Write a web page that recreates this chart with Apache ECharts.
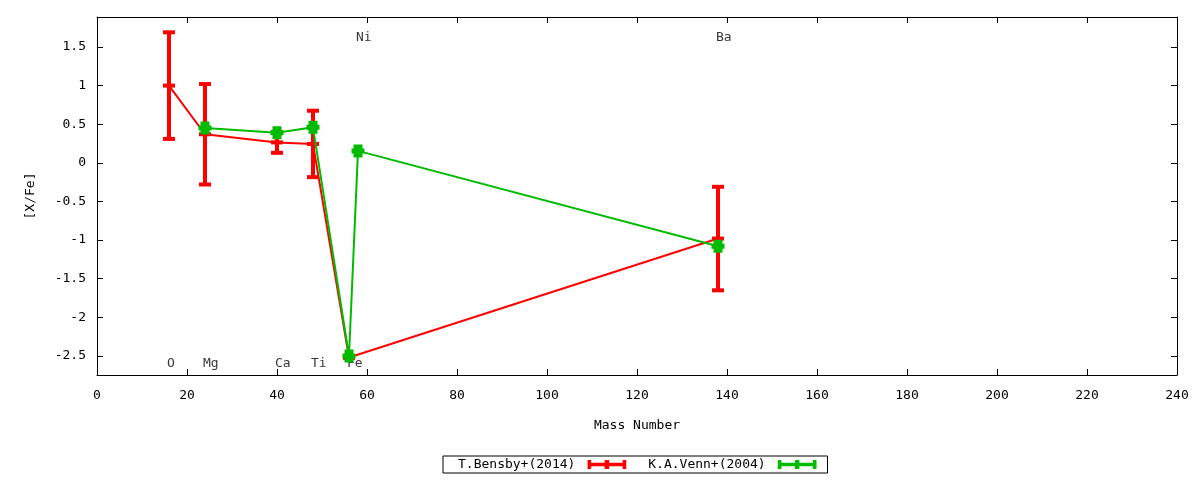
<!DOCTYPE html>
<html><head><meta charset="utf-8">
<script src="https://cdn.jsdelivr.net/npm/echarts@6/dist/echarts.min.js"></script>
<style>html,body{margin:0;padding:0;background:#fff}#c{width:1200px;height:480px}</style>
</head><body><div id="c"></div>
<script>
const FONT = '"DejaVu Sans Mono", monospace';
// T.Bensby+(2014)
const bensbyMass = [16, 24, 40, 48, 56, 138];
const bensbyVal  = [1.0, 0.37, 0.265, 0.245, -2.52, -0.98];
const bensbyErr  = [0.69, 0.65, 0.135, 0.43, 0, 0.67];
// K.A.Venn+(2004)
const vennMass = [24, 40, 48, 56, 58, 138];
const vennVal  = [0.45, 0.39, 0.46, -2.5, 0.155, -1.08];
const vennErr  = [0, 0, 0, 0, 0, 0];
// element labels
const elemNames = ['O', 'Mg', 'Ca', 'Ti', 'Fe', 'Ni', 'Ba'];
const elemX     = [16, 24, 40, 48, 56, 58, 138];
const elemY     = [-2.6, -2.6, -2.6, -2.6, -2.6, 1.62, 1.62];
const yTicks = [-2.5, -2, -1.5, -1, -0.5, 0, 0.5, 1, 1.5];

const RED = '#ff0000', GREEN = '#00bb00';

function errSeries(name, mass, val, err, color, capW, lw) {
  return {
    type: 'custom', name: name, z: 3,
    data: mass.map((m, i) => [m, val[i], val[i] - err[i], val[i] + err[i]]),
    renderItem: function (params, api) {
      const p = api.coord([api.value(0), api.value(1)]);
      const lo = api.coord([api.value(0), api.value(2)]);
      const hi = api.coord([api.value(0), api.value(3)]);
      const st = { stroke: color, lineWidth: lw };
      return { type: 'group', children: [
        { type: 'line', shape: { x1: lo[0], y1: lo[1], x2: hi[0], y2: hi[1] }, style: st },
        { type: 'line', shape: { x1: lo[0] - capW, y1: lo[1], x2: lo[0] + capW, y2: lo[1] }, style: st },
        { type: 'line', shape: { x1: hi[0] - capW, y1: hi[1], x2: hi[0] + capW, y2: hi[1] }, style: st },
        { type: 'line', shape: { x1: p[0] - capW, y1: p[1], x2: p[0] + capW, y2: p[1] }, style: st }
      ]};
    }
  };
}

const legendIcon = 'path://M0,3h43v4h-43z M0,0h4v10h-4z M39,0h4v10h-4z M19,0h5v10h-5z';
const axisCommon = {
  axisLine: { show: true, onZero: false, lineStyle: { color: '#000', width: 1 } },
  splitLine: { show: false }
};

const chart = echarts.init(document.getElementById('c'));
chart.setOption({
  animation: false,
  backgroundColor: '#fff',
  textStyle: { fontFamily: FONT },
  grid: { left: 97, right: 23, top: 17, bottom: 105, containLabel: false },
  legend: {
    top: 456, left: 443, align: 'right',
    data: [
      { name: 'T.Bensby+(2014)', icon: legendIcon, itemStyle: { color: RED } },
      { name: 'K.A.Venn+(2004)', icon: legendIcon, itemStyle: { color: GREEN } }
    ],
    itemWidth: 43, itemHeight: 9, itemGap: 22,
    borderColor: '#000', borderWidth: 1, borderRadius: 0, padding: [2, 11, 2, 15],
    textStyle: { fontFamily: FONT, fontSize: 13, color: '#000', padding: [0, 5, 0, 0] }
  },
  xAxis: [Object.assign({
    type: 'value', min: 0, max: 240, interval: 20,
    name: 'Mass Number', nameLocation: 'middle', nameGap: 44,
    nameTextStyle: { fontFamily: FONT, fontSize: 13, color: '#000' },
    axisTick: { inside: true, length: 6, lineStyle: { color: '#000' } },
    axisLabel: { fontFamily: FONT, fontSize: 13, color: '#000', margin: 14 }
  }, axisCommon), Object.assign({
    type: 'value', min: 0, max: 240, interval: 20, position: 'top',
    axisTick: { inside: true, length: 6, lineStyle: { color: '#000' } },
    axisLabel: { show: false }
  }, axisCommon)],
  yAxis: [Object.assign({
    type: 'value', min: -2.746, max: 1.888,
    name: '[X/Fe]', nameLocation: 'middle', nameGap: 60, nameRotate: 90,
    nameTextStyle: { fontFamily: FONT, fontSize: 13, color: '#000' },
    axisTick: { show: true, inside: true, length: 6, lineStyle: { color: '#000' }, customValues: yTicks },
    axisLabel: { fontFamily: FONT, fontSize: 13, color: '#000', margin: 11, customValues: yTicks }
  }, axisCommon), Object.assign({
    type: 'value', min: -2.746, max: 1.888, position: 'right',
    axisTick: { show: true, inside: true, length: 6, lineStyle: { color: '#000' }, customValues: yTicks },
    axisLabel: { show: false }
  }, axisCommon)],
  series: [
    {
      type: 'scatter', name: 'labels', z: 1, symbolSize: 0, silent: true,
      data: elemX.map((x, i) => ({ value: [x, elemY[i]], name: elemNames[i] })),
      label: { show: true, position: [-2, 0], align: 'left', verticalAlign: 'middle',
               formatter: p => p.name, fontFamily: FONT, fontSize: 13, color: '#000' }
    },
    {
      type: 'line', name: 'T.Bensby+(2014)', z: 2,
      data: bensbyMass.map((m, i) => [m, bensbyVal[i]]),
      showSymbol: false, symbol: 'none',
      lineStyle: { color: RED, width: 2 }, itemStyle: { color: RED }
    },
    errSeries('T.Bensby+(2014)', bensbyMass, bensbyVal, bensbyErr, RED, 6, 4),
    {
      type: 'line', name: 'K.A.Venn+(2004)', z: 4,
      data: vennMass.map((m, i) => [m, vennVal[i]]),
      symbol: 'path://M0,4h2v-4h9v4h2v5h-2v4h-9v-4h-2z', symbolSize: [13, 13], showSymbol: true,
      lineStyle: { color: GREEN, width: 2 }, itemStyle: { color: GREEN }
    },
    errSeries('K.A.Venn+(2004)', vennMass, vennVal, vennErr, GREEN, 6, 3)
  ]
});
</script></body></html>
